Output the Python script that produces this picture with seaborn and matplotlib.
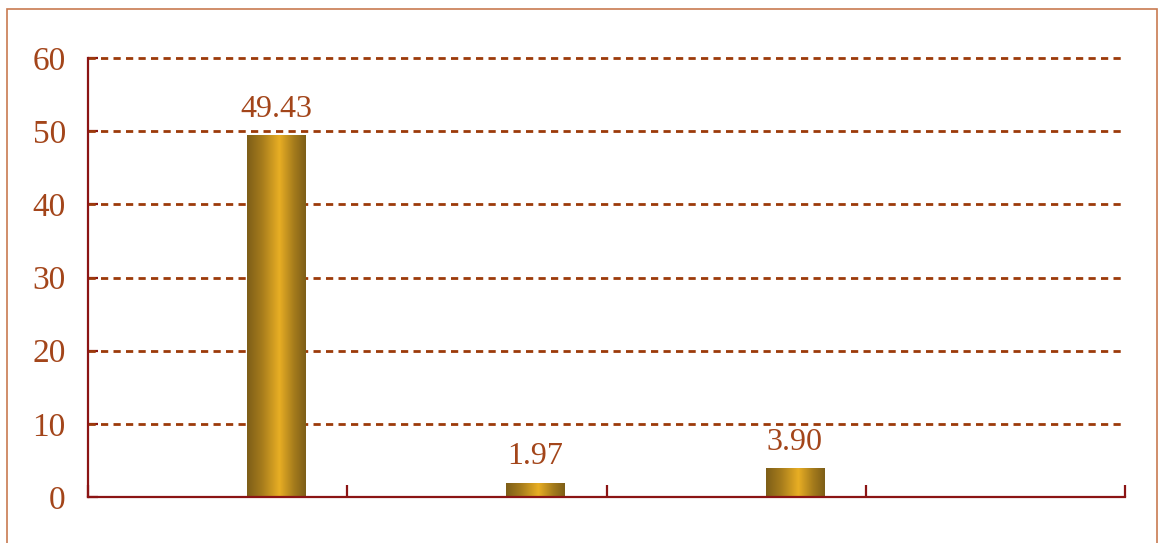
import numpy as np
import pandas as pd
import seaborn as sns
import matplotlib.pyplot as plt
from matplotlib.colors import LinearSegmentedColormap
from matplotlib.patches import Rectangle

sns.set_style('white')
plt.rcParams['font.family'] = ['Liberation Serif', 'DejaVu Serif']

# data
categories = ['A', 'B', 'C', 'D']
values = [49.43, 1.97, 3.90]
labels = ['49.43', '1.97', '3.90']
series_order = ['s1', 's2', 's3']
y_ticks = [0, 10, 20, 30, 40, 50, 60]

df = pd.DataFrame({'category': categories[:3], 'value': values, 'series': 's3'})

axis_red = '#8b1414'
text_col = '#a3451a'
grid_col = '#9c3a0a'

fig = plt.figure(figsize=(11.65, 5.43), dpi=100)
ax = fig.add_axes([88 / 1165, 1 - 497 / 543, (1125 - 88) / 1165, (497 - 58) / 543])

sns.barplot(data=df, x='category', y='value', hue='series', order=categories,
            hue_order=series_order, width=0.68, dodge=True, legend=False,
            color='#c0901e', ax=ax, zorder=3)

# gradient fill in each bar
cmap = LinearSegmentedColormap.from_list('gold', [
    (0.0, '#7d5e18'), (0.25, '#a57b1c'), (0.55, '#e8ae24'),
    (0.8, '#a57b1c'), (1.0, '#7d5e18')])
grad = np.linspace(0, 1, 256).reshape(1, -1)
for p in ax.patches:
    if p.get_height() == 0 or np.isnan(p.get_height()):
        continue
    x0, w, h = p.get_x(), p.get_width(), p.get_height()
    im = ax.imshow(grad, cmap=cmap, aspect='auto', extent=[x0, x0 + w, 0, h], zorder=3)
    im.set_clip_path(p)
    p.set_facecolor('none')
    p.set_edgecolor('none')

# value labels
bars = [p for p in ax.patches if p.get_height() > 0]
bars.sort(key=lambda p: p.get_x())
for p, lab in zip(bars, labels):
    ax.text(p.get_x() + p.get_width() / 2, p.get_height() + 1.6, lab, ha='center', va='bottom',
            fontsize=23, color=text_col, zorder=4)

ax.set_xlim(-0.5, 3.5)
ax.set_ylim(0, 60)
ax.set_yticks(y_ticks)
ax.set_xticks([-0.5, 0.5, 1.5, 2.5, 3.5])
ax.set_xticklabels([])
ax.set_xlabel('')
ax.set_ylabel('')

for y in y_ticks[1:]:
    ax.axhline(y, color=grid_col, lw=2.0, linestyle=(0, (2.6, 1.9)), zorder=1, clip_on=False)

for s in ['top', 'right']:
    ax.spines[s].set_visible(False)
for s in ['left', 'bottom']:
    ax.spines[s].set_color(axis_red)
    ax.spines[s].set_linewidth(1.6)
    ax.spines[s].set_zorder(5)

ax.tick_params(axis='y', left=True, direction='in', length=7.5, width=1.6, color=axis_red,
               labelsize=24, labelcolor=text_col, pad=16)
ax.tick_params(axis='x', bottom=True, direction='in', length=9, width=1.6, color=axis_red)

# outer border
fig.add_artist(Rectangle((7 / 1165, -0.05), 1150 / 1165, 1.05 - 9 / 543, transform=fig.transFigure,
                         fill=False, edgecolor='#c87a50', lw=1.2))

fig.savefig('out.png', dpi=100)
